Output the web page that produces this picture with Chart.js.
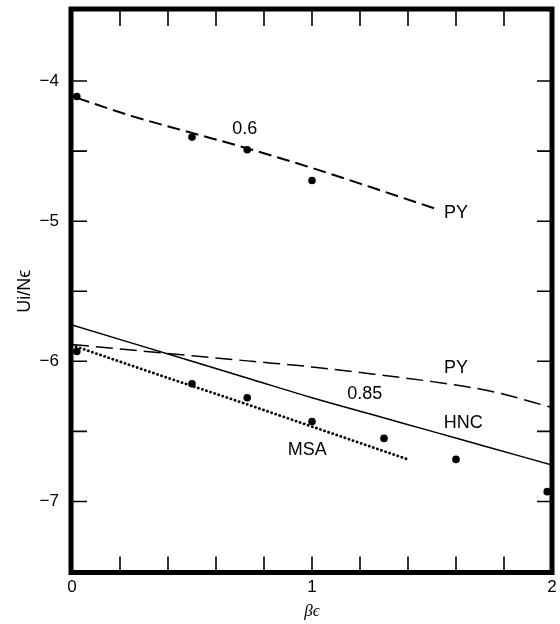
<!DOCTYPE html>
<html>
<head>
<meta charset="utf-8">
<script src="https://cdn.jsdelivr.net/npm/chart.js@4/dist/chart.umd.min.js"></script>
<style>
  html, body { margin: 0; padding: 0; background: #fff; }
  #wrap { width: 560px; height: 624px; }
</style>
</head>
<body>
<div id="wrap"><canvas id="c" width="560" height="624"></canvas></div>
<script>
// ---- data ----
// rho = 0.6, PY curve
const py06X = [0.02, 0.25, 0.5, 0.75, 1.0, 1.25, 1.53];
const py06Y = [-4.12, -4.25, -4.37, -4.49, -4.62, -4.76, -4.92];
// rho = 0.6, simulation points
const sim06X = [0.02, 0.5, 0.73, 1.0];
const sim06Y = [-4.11, -4.40, -4.49, -4.71];
// rho = 0.85, PY curve
const py085X = [0, 0.25, 0.5, 0.75, 1.0, 1.25, 1.5, 1.75, 2.0];
const py085Y = [-5.88, -5.92, -5.96, -6.00, -6.04, -6.09, -6.145, -6.215, -6.33];
// rho = 0.85, HNC curve
const hncX = [0, 0.25, 0.5, 0.75, 1.0, 1.25, 1.5, 1.75, 2.0];
const hncY = [-5.74, -5.87, -6.00, -6.13, -6.26, -6.38, -6.50, -6.62, -6.74];
// rho = 0.85, MSA curve
const msaX = [0, 0.35, 0.7, 1.05, 1.4];
const msaY = [-5.885, -6.09, -6.29, -6.495, -6.70];
// rho = 0.85, simulation points
const sim085X = [0.02, 0.5, 0.73, 1.0, 1.3, 1.6, 1.98];
const sim085Y = [-5.93, -6.16, -6.26, -6.43, -6.55, -6.70, -6.93];
// curve annotations (text and data-space anchor)
const noteText = ['0.6', 'PY', 'PY', '0.85', 'HNC', 'MSA'];
const noteX = [0.72, 1.60, 1.60, 1.22, 1.63, 0.98];
const noteY = [-4.34, -4.94, -6.05, -6.23, -6.44, -6.63];
// axes
const xMin = 0, xMax = 2, xStep = 0.2;
const yMin = -7.5, yMax = -3.5, yStep = 0.5;
const xTitle = 'βϵ';
const yTitle = 'Ui/Nϵ';

const pts = (xs, ys) => xs.map((x, i) => ({ x: x, y: ys[i] }));
const isInt = v => Math.abs(v - Math.round(v)) < 1e-6;

const framePlugin = {
  id: 'frame',
  afterDatasetsDraw(chart) {
    const { ctx, chartArea: a, scales } = chart;
    ctx.save();
    // inward ticks on all four sides
    ctx.strokeStyle = '#000';
    ctx.lineWidth = 1.6;
    const tl = 15;
    scales.x.ticks.forEach(t => {
      const p = scales.x.getPixelForValue(t.value);
      if (p <= a.left + 2 || p >= a.right - 2) return;
      ctx.beginPath();
      ctx.moveTo(p, a.bottom); ctx.lineTo(p, a.bottom - tl);
      ctx.moveTo(p, a.top); ctx.lineTo(p, a.top + tl);
      ctx.stroke();
    });
    scales.y.ticks.forEach(t => {
      const p = scales.y.getPixelForValue(t.value);
      if (p <= a.top + 2 || p >= a.bottom - 2) return;
      ctx.beginPath();
      ctx.moveTo(a.left, p); ctx.lineTo(a.left + tl, p);
      ctx.moveTo(a.right, p); ctx.lineTo(a.right - tl, p);
      ctx.stroke();
    });
    // heavy frame
    ctx.lineWidth = 5;
    ctx.strokeRect(a.left - 1, a.top - 2, a.right - a.left + 1, a.bottom - a.top + 3);
    // annotations
    ctx.fillStyle = '#000';
    ctx.font = '18px "Liberation Sans", Arial, sans-serif';
    ctx.textAlign = 'center';
    ctx.textBaseline = 'middle';
    noteText.forEach((s, i) => {
      ctx.fillText(s, scales.x.getPixelForValue(noteX[i]), scales.y.getPixelForValue(noteY[i]));
    });
    ctx.restore();
  }
};

const lineDs = (data, dash, width) => ({
  type: 'scatter', data: data, showLine: true, pointRadius: 0,
  borderColor: '#000', borderWidth: width, borderDash: dash,
  cubicInterpolationMode: 'monotone', fill: false, borderCapStyle: 'butt'
});
const pointDs = data => ({
  type: 'scatter', data: data, showLine: false, pointRadius: 3.8,
  pointBackgroundColor: '#000', pointBorderColor: '#000', pointBorderWidth: 0
});

new Chart(document.getElementById('c'), {
  type: 'scatter',
  data: {
    datasets: [
      lineDs(pts(py06X, py06Y), [13, 6], 2),
      lineDs(pts(py085X, py085Y), [17, 7], 1.5),
      lineDs(pts(hncX, hncY), [], 1.5),
      Object.assign(lineDs(pts(msaX, msaY), [0.1, 4.2], 2.8), { borderCapStyle: 'round' }),
      pointDs(pts(sim06X, sim06Y)),
      pointDs(pts(sim085X, sim085Y))
    ]
  },
  options: {
    responsive: false,
    animation: false,
    devicePixelRatio: 1,
    layout: { padding: { top: 11, right: 8, left: 0, bottom: 0 } },
    plugins: { legend: { display: false }, tooltip: { enabled: false } },
    scales: {
      x: {
        type: 'linear', min: xMin, max: xMax,
        afterFit: s => { s.height = 52.5; s.paddingLeft = 0; s.paddingRight = 0; },
        grid: { display: false, drawTicks: false },
        border: { display: false },
        ticks: {
          stepSize: xStep, autoSkip: false, maxRotation: 0, padding: 6,
          color: '#000', font: { family: '"Liberation Sans", Arial, sans-serif', size: 17 },
          callback: v => isInt(v) ? String(Math.round(v)) : ''
        },
        title: {
          display: true, text: xTitle, color: '#000',
          font: { family: '"Liberation Serif", serif', size: 17, style: 'italic' },
          padding: { top: 0, bottom: 2 }
        }
      },
      y: {
        type: 'linear', min: yMin, max: yMax,
        afterFit: s => { s.width = 72; s.paddingTop = 0; s.paddingBottom = 0; },
        grid: { display: false, drawTicks: false },
        border: { display: false },
        ticks: {
          stepSize: yStep, autoSkip: false, padding: 13,
          color: '#000', font: { family: '"Liberation Sans", Arial, sans-serif', size: 17 },
          callback: v => isInt(v) ? '\u2212' + Math.abs(Math.round(v)) : ''
        },
        title: {
          display: true, text: yTitle, color: '#000',
          font: { family: '"Liberation Sans", Arial, sans-serif', size: 18 },
          padding: { top: 14, bottom: 0 }
        }
      }
    }
  },
  plugins: [framePlugin]
});
</script>
</body>
</html>
